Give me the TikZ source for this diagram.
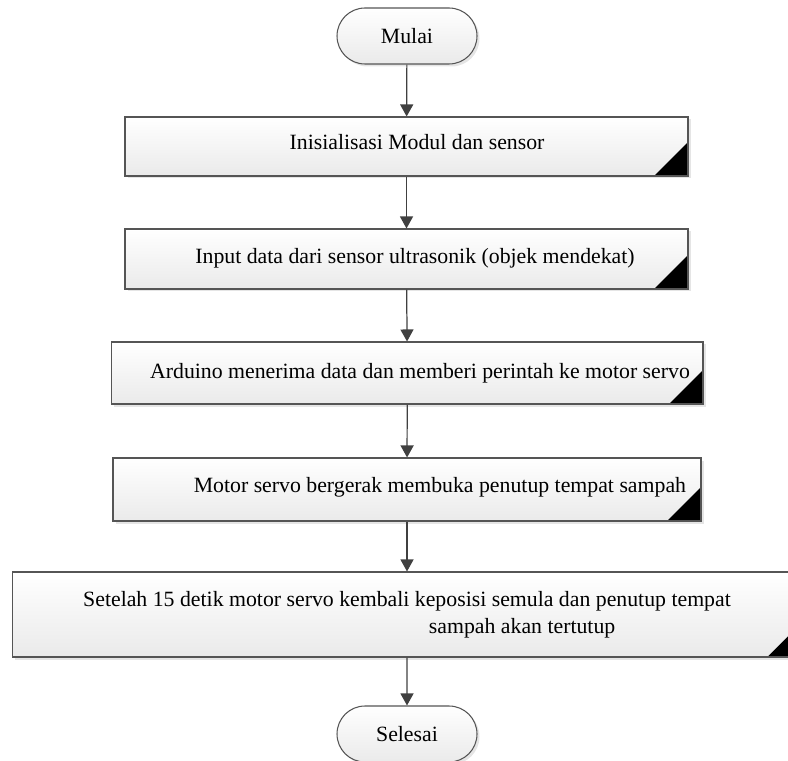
\documentclass[tikz,border=0pt]{standalone}
\usepackage{fontspec}
\setmainfont{Liberation Serif}
\usetikzlibrary{arrows.meta,shapes.misc,shadows}
\definecolor{linec}{RGB}{64,64,64}
\definecolor{edgec}{RGB}{85,85,85}
\definecolor{boxbot}{RGB}{234,234,234}

\begin{document}
\begin{tikzpicture}[
  term/.style={rounded rectangle, draw=edgec, line width=0.6pt, top color=white, bottom color=boxbot,
               minimum width=2.8cm, minimum height=1.12cm, inner sep=0pt,
               font=\fontsize{12.4}{15.4}\selectfont,
               drop shadow={shadow xshift=0.05cm, shadow yshift=-0.05cm, fill=black!20}},
  proc/.style={rectangle, draw=edgec, line width=0.6pt, top color=white, bottom color=boxbot,
               align=center, inner sep=0pt, font=\fontsize{12.4}{15.4}\selectfont,
               drop shadow={shadow xshift=0.05cm, shadow yshift=-0.05cm, fill=black!20},
               path picture={\fill[black] (path picture bounding box.south east)
                 -- ++(-0.68,0) -- ++(0.68,0.68) -- cycle;}},
  flow/.style={-{Triangle[length=0.24cm, width=0.26cm]}, line width=0.7pt, linec},
]
\clip (0,0) rectangle (15.76,-15.22);

% start
\node[term] (start) at (8.14,-0.72) {Mulai};

% process steps
\node[proc, minimum width=11.26cm, minimum height=1.18cm] (init) at (8.13,-2.93)
  {\raisebox{4.8pt}{\hspace*{12pt}Inisialisasi Modul dan sensor}};
\node[proc, minimum width=11.26cm, minimum height=1.2cm] (input) at (8.13,-5.18)
  {\raisebox{4pt}{\hspace*{9.7pt}Input data dari sensor ultrasonik (objek mendekat)}};
\node[proc, minimum width=11.83cm, minimum height=1.24cm] (arduino) at (8.145,-7.46)
  {\hspace*{14.5pt}Arduino menerima data dan memberi perintah ke motor servo};
\node[proc, minimum width=11.76cm, minimum height=1.26cm] (servo) at (8.14,-9.79)
  {\raisebox{5.4pt}{\hspace*{37.5pt}Motor servo bergerak membuka penutup tempat sampah}};
\node[proc, minimum width=15.77cm, minimum height=1.7cm] (back) at (8.14,-12.29)
  {Setelah 15 detik motor servo kembali keposisi semula dan penutup tempat\\
   \hspace*{131pt}sampah akan tertutup};

% end
\node[term] (stop) at (8.14,-14.68) {Selesai};

% connectors
\draw[flow] (start) -- (init);
\draw[flow] (init) -- (input);
\draw[flow] (input) -- (arduino);
\draw[flow] (arduino) -- (servo);
\draw[flow] (servo) -- (back);
\draw[flow] (back) -- (stop);

\end{tikzpicture}
\end{document}
